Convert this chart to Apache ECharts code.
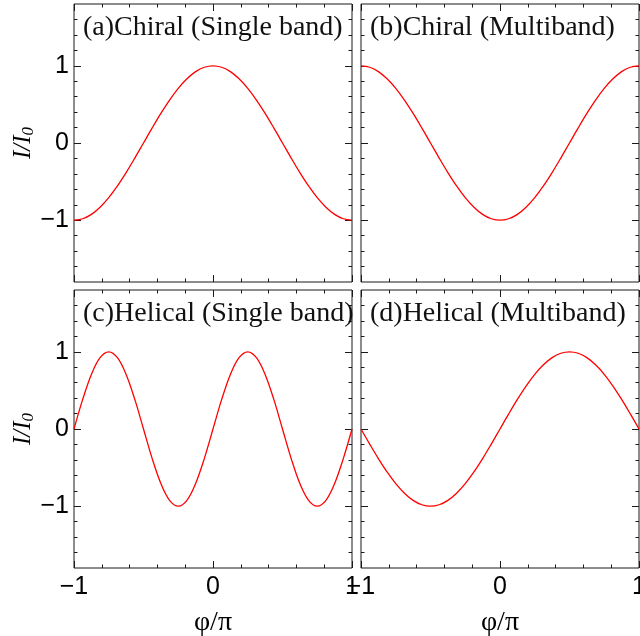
<!DOCTYPE html>
<html>
<head>
<meta charset="utf-8">
<script src="https://cdn.jsdelivr.net/npm/echarts@6/dist/echarts.min.js"></script>
<style>html,body{margin:0;padding:0;background:#fff}#c{width:640px;height:636px}</style>
</head>
<body>
<div id="c"></div>
<script>
// phase phi/pi
const phi = [-1,-0.9375,-0.875,-0.8125,-0.75,-0.6875,-0.625,-0.5625,-0.5,-0.4375,-0.375,-0.3125,-0.25,-0.1875,-0.125,-0.0625,0,0.0625,0.125,0.1875,0.25,0.3125,0.375,0.4375,0.5,0.5625,0.625,0.6875,0.75,0.8125,0.875,0.9375,1];
// (a) Chiral single band
const chiralSingle = [-1,-0.981,-0.924,-0.831,-0.707,-0.556,-0.383,-0.195,0,0.195,0.383,0.556,0.707,0.831,0.924,0.981,1,0.981,0.924,0.831,0.707,0.556,0.383,0.195,0,-0.195,-0.383,-0.556,-0.707,-0.831,-0.924,-0.981,-1];
// (b) Chiral multiband
const chiralMulti = [1,0.981,0.924,0.831,0.707,0.556,0.383,0.195,0,-0.195,-0.383,-0.556,-0.707,-0.831,-0.924,-0.981,-1,-0.981,-0.924,-0.831,-0.707,-0.556,-0.383,-0.195,0,0.195,0.383,0.556,0.707,0.831,0.924,0.981,1];
// (c) Helical single band
const helicalSingle = [0,0.383,0.707,0.924,1,0.924,0.707,0.383,0,-0.383,-0.707,-0.924,-1,-0.924,-0.707,-0.383,0,0.383,0.707,0.924,1,0.924,0.707,0.383,0,-0.383,-0.707,-0.924,-1,-0.924,-0.707,-0.383,0];
// (d) Helical multiband
const helicalMulti = [0,-0.195,-0.383,-0.556,-0.707,-0.831,-0.924,-0.981,-1,-0.981,-0.924,-0.831,-0.707,-0.556,-0.383,-0.195,0,0.195,0.383,0.556,0.707,0.831,0.924,0.981,1,0.981,0.924,0.831,0.707,0.556,0.383,0.195,0];

const panelTitles = ['(a)Chiral (Single band)','(b)Chiral (Multiband)','(c)Helical (Single band)','(d)Helical (Multiband)'];
const xTicks = [-1,0,1];
const xMinorTicks = [-0.8,-0.6,-0.4,-0.2,0.2,0.4,0.6,0.8];
const yTicks = [-1,0,1];
const yMinorTicks = [-1.6,-1.4,-1.2,-0.8,-0.6,-0.4,-0.2,0.2,0.4,0.6,0.8,1.2,1.4,1.6];
const xName = 'φ/π';
const yNameMain = 'I/I';
const yNameSub = '0';

const panelData = [chiralSingle, chiralMulti, helicalSingle, helicalMulti];

const gridPos = [
  {left:74, top:4}, {left:361, top:4}, {left:74, top:290}, {left:361, top:290}
];
const W = 278, H = 278;
const frameColor = '#1a1a1a';
const sans = '"Liberation Sans", Arial, sans-serif';
const serif = '"Liberation Serif", "Times New Roman", serif';
const fmt = v => String(v).replace('-', '\u2212');

const grids = [], xAxes = [], yAxes = [], series = [], titles = [];
gridPos.forEach((p, g) => {
  grids.push({left:p.left, top:p.top, width:W, height:H, show:true, borderColor:frameColor, borderWidth:1,
    backgroundColor:'transparent', containLabel:false, outerBoundsMode:'none'});
  const bottomRow = g >= 2, leftCol = g % 2 === 0;
  const xi = xAxes.length;
  [['bottom', xTicks, 7, true], ['top', xTicks, 7, false], ['bottom', xMinorTicks, 3.5, false], ['top', xMinorTicks, 3.5, false]].forEach(([pos, ticks, len, main]) => {
    const ax = {
      type:'value', gridIndex:g, position:pos, min:-1, max:1,
      axisLine:{show:false, onZero:false}, splitLine:{show:false},
      axisTick:{show:true, inside:true, length:len, customValues:ticks, lineStyle:{color:frameColor, width:1}},
      axisLabel:{show: main && bottomRow, customValues:xTicks, formatter:fmt, color:'#000', fontFamily:sans, fontSize:25, margin:7}
    };
    if (main && bottomRow) {
      ax.name = xName; ax.nameLocation = 'middle'; ax.nameGap = 41;
      ax.nameTextStyle = {fontFamily:serif, fontSize:28, color:'#000'};
    }
    xAxes.push(ax);
  });
  const yi = yAxes.length;
  [['left', yTicks, 7, true], ['right', yTicks, 7, false], ['left', yMinorTicks, 3.5, false], ['right', yMinorTicks, 3.5, false]].forEach(([pos, ticks, len, main]) => {
    const ax = {
      type:'value', gridIndex:g, position:pos, min:-1.8, max:1.8,
      axisLine:{show:false, onZero:false}, splitLine:{show:false},
      axisTick:{show:true, inside:true, length:len, customValues:ticks, lineStyle:{color:frameColor, width:1}},
      axisLabel:{show: main && leftCol, customValues:yTicks, formatter:fmt, color:'#000', fontFamily:sans, fontSize:25, margin:5}
    };
    if (main && leftCol) {
      ax.name = '{i|' + yNameMain + '}{s|' + yNameSub + '}';
      ax.nameLocation = 'middle'; ax.nameRotate = 90; ax.nameGap = 33;
      ax.nameTextStyle = {rich:{
        i:{fontFamily:serif, fontStyle:'italic', fontSize:25, color:'#000'},
        s:{fontFamily:serif, fontStyle:'italic', fontSize:17, color:'#000', verticalAlign:'bottom', padding:[10,0,0,0]}
      }};
    }
    yAxes.push(ax);
  });
  series.push({
    type:'line', xAxisIndex:xi, yAxisIndex:yi, showSymbol:false, smooth:0.35,
    lineStyle:{color:'#ff0000', width:1.3}, silent:true, animation:false,
    data: phi.map((x, i) => [x, panelData[g][i]])
  });
  titles.push({text:panelTitles[g], left:p.left + 9, top:p.top + 10, padding:0,
    textStyle:{fontFamily:serif, fontSize:28, fontWeight:'normal', color:'#111'}});
});

const chart = echarts.init(document.getElementById('c'), null, {renderer:'canvas'});
chart.setOption({
  animation:false,
  backgroundColor:'#fff',
  title:titles, grid:grids, xAxis:xAxes, yAxis:yAxes, series:series
});
</script>
</body>
</html>
